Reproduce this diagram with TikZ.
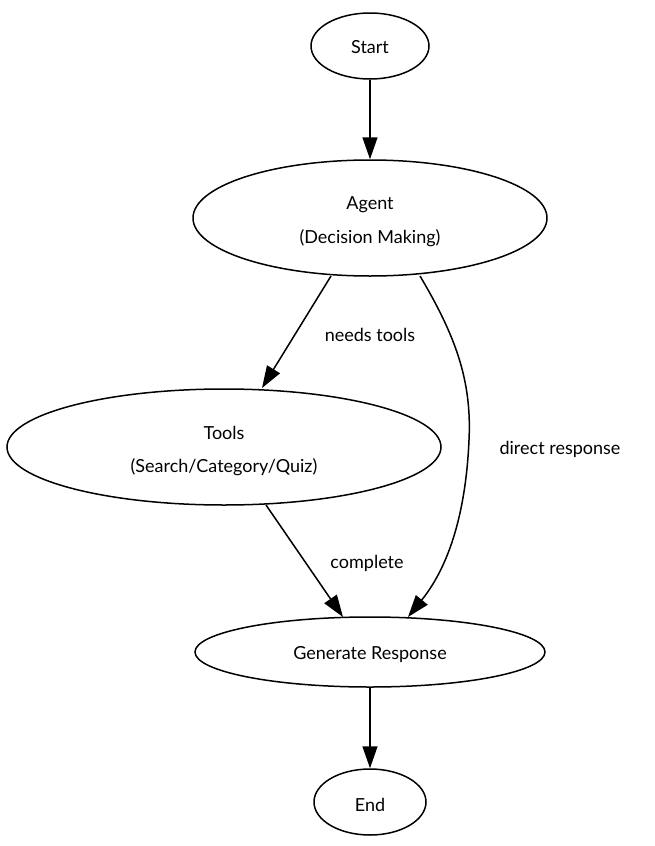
\documentclass[tikz,border=0pt]{standalone}
\usepackage{fontspec}
\setmainfont{Lato}
\usetikzlibrary{arrows.meta,shapes.geometric}
\begin{document}
\begin{tikzpicture}[x=1pt,y=-1pt,
  st/.style={draw,line width=1.5pt,ellipse,inner sep=0pt},
  ar/.style={line width=1.5pt,-{Triangle[length=22pt,width=15pt]}},
  lbl/.style={font=\fontsize{18}{21}\selectfont},
  txt/.style={font=\fontsize{18}{21}\selectfont}]
\useasboundingbox (0,0) rectangle (654,846);
\node[st,minimum width=118pt,minimum height=66pt] (start) at (370,46) {};
\node[txt] at (370,47.5) {Start};
\node[st,minimum width=354pt,minimum height=116pt] (agent) at (370,218) {};
\node[txt] at (370,204.5) {Agent};
\node[txt] at (370,238.5) {(Decision Making)};
\node[st,minimum width=434pt,minimum height=116pt] (tools) at (224,447) {};
\node[txt] at (224,432.5) {Tools};
\node[txt] at (224,467.5) {(Search/Category/Quiz)};
\node[st,minimum width=350pt,minimum height=70pt] (gen) at (370,652) {};
\node[txt] at (370,654.5) {Generate Response};
\node[st,minimum width=112pt,minimum height=66pt] (end) at (370,802) {};
\node[txt] at (370,804.5) {End};
\coordinate (a1) at (331,276);
\coordinate (t1) at (262,388);
\coordinate (t2) at (266,505);
\coordinate (g1) at (343,617);
\coordinate (a2) at (420,276);
\coordinate (g2) at (408,617);
\draw[ar] (start) -- (agent);
\draw[ar] (a1) -- (t1);
\draw[ar] (t2) -- (g1);
\draw[ar] (a2) .. controls (455,335) and (472,380) .. (469,440)
  .. controls (466,510) and (450,565) .. (g2);
\draw[ar] (gen) -- (end);
\node[lbl] at (370,334.5) {needs tools};
\node[lbl] at (367,563.5) {complete};
\node[lbl] at (560,449.5) {direct response};
\end{tikzpicture}
\end{document}
